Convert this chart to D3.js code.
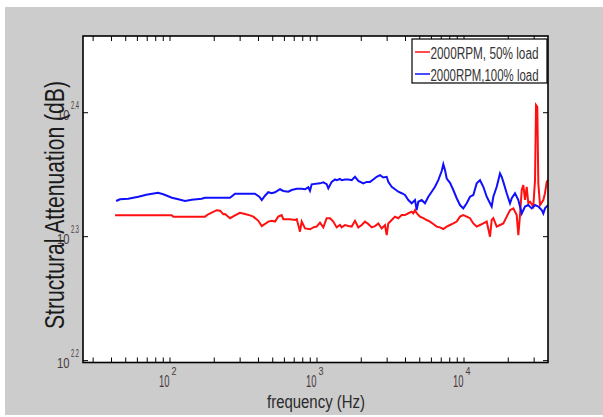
<!DOCTYPE html>
<html>
<head>
<meta charset="utf-8">
<script src="https://cdn.jsdelivr.net/npm/d3@7"></script>
<style>
  body { margin: 0; background: #fff; }
  svg { display: block; }
</style>
</head>
<body>
<svg id="chart" width="603" height="417"></svg>
<script>
const seriesNames = ["2000RPM, 50% load", "2000RPM,100% load"]
const seriesColors = ["#ff1010", "#1010ff"]
const xTickPowers = [2, 3, 4]
const yTickPowers = ["2.2", "2.3", "2.4"]

// [frequency Hz, attenuation]
const load50 = [
  [42.3,207.6],[102.7,207.6],[105.3,207.1],[173,207.1],[182,208.0],[208,209.6],[219,209.4],
  [230.5,208.0],[237,208.1],[256,206.5],[277,207.6],[299,208.6],[324,208.1],[350,207.6],
  [369,207.1],[399,205.5],[421,203.5],[443,204.3],[466,205.2],[492,205.5],[518,205.2],
  [545,207.1],[575,207.7],[590,206.1],[655,206.1],[709,205.8],[728,206.1],[746,203.9],
  [766,201.4],[787,205.2],[829,202.6],[896,202.3],[944,203.0],[995,203.3],[1048,204.8],
  [1104,203.0],[1164,206.5],[1226,206.5],[1291,205.2],[1361,203.0],[1434,203.9],[1472,203.0],
  [1550,203.9],[1633,203.5],[1722,203.3],[1814,205.5],[1910,203.0],[2015,203.9],[2121,205.2],
  [2234,204.3],[2356,203.0],[2481,203.5],[2612,204.5],[2755,202.6],[2901,203.9],[2980,200.1],
  [3055,204.5],[3222,205.8],[3393,207.1],[3573,206.5],[3769,207.7],[3968,207.7],[4180,208.4],
  [4408,209.0],[4520,208.4],[4642,209.6],[4767,208.4],[5020,207.1],[5286,206.5],[5576,205.8],
  [5871,205.2],[6183,204.3],[6521,203.3],[6866,203.0],[7232,202.4],[7626,203.3],[8033,203.9],
  [8458,204.5],[8919,205.2],[9393,207.1],[9890,207.7],[10430,207.1],[10985,206.5],[11570,204.5],
  [12200,203.3],[12850,203.9],[13530,204.5],[14270,205.2],[15030,199.5],[15430,205.8],
  [15830,206.5],[16690,203.3],[17580,203.9],[18510,204.5],[19520,207.1],[20560,209.6],
  [21660,210.3],[22830,207.7],[23420,200.1],[24040,207.7],[24700,217.6],[25320,219.6],
  [26000,213.6],[26700,218.9],[27380,212.3],[28120,212.9],[29600,211.0],[30410,221.6],
  [30900,254.8],[31520,254.0],[32030,220.3],[32890,211.6],[34640,213.6],[35560,216.3],
  [36530,220.9],[37270,221.6]
]

const load100 = [
  [43,213.2],[45.7,213.9],[52,214.1],[61,214.9],[69,215.7],[83,216.5],[90,215.9],[103,214.5],
  [114,213.9],[126.5,213.2],[140.5,213.7],[164,214.1],[173,214.5],[237,214.5],[256,214.5],
  [277,216.1],[378,216.1],[405,214.9],[421,213.6],[443,215.3],[466,216.7],[492,216.3],
  [518,216.7],[560,217.9],[590,217.2],[638,216.9],[673,217.6],[728,218.1],[787,218.1],
  [829,217.9],[873,218.7],[896,217.3],[920,219.9],[1048,220.3],[1104,220.7],[1164,220.0],
  [1194,218.3],[1259,220.9],[1326,221.9],[1361,221.6],[1434,222.1],[1472,221.6],[1550,221.9],
  [1633,221.9],[1722,221.6],[1814,223.0],[1910,221.3],[2065,220.3],[2178,220.9],[2294,220.9],
  [2415,221.9],[2547,223.0],[2683,223.7],[2825,222.7],[2980,223.0],[3055,220.9],[3222,218.9],
  [3393,217.9],[3573,216.9],[3769,216.3],[3968,215.6],[4180,213.6],[4408,212.3],[4642,213.6],
  [4767,209.6],[4888,212.9],[5155,213.6],[5428,212.3],[5717,214.9],[6030,216.9],[6348,218.9],
  [6687,221.6],[7052,225.4],[7232,228.3],[7425,225.8],[7626,222.3],[8033,220.5],[8458,217.6],
  [8919,214.3],[9393,211.6],[9890,210.3],[10430,212.3],[10985,214.9],[11570,215.6],
  [12200,220.3],[12850,221.6],[13530,218.9],[14270,214.9],[15030,212.3],[15430,211.0],
  [15830,214.9],[16690,218.9],[17580,224.4],[18050,223.0],[18510,220.9],[19520,216.3],
  [20560,212.3],[21120,214.3],[22240,216.3],[23420,213.6],[24700,208.3],[26000,211.0],
  [27380,211.6],[28880,210.3],[30410,211.6],[32030,211.0],[33780,209.6],[34640,208.3],
  [35560,210.3],[37270,211.6]
]

const svg = d3.select("#chart")
const font = "'Liberation Sans Narrow', 'Liberation Sans', Arial, sans-serif"
const textColor = "#4a3a3a"

const plotL = 83, plotR = 548, plotT = 36, plotB = 362.5

const x = d3.scaleLog().domain([25.6, 37270]).range([plotL, plotR])
const y = d3.scaleLog()
  .domain([Math.pow(10, 2.1985), Math.pow(10, 2.4619)])
  .range([plotB, plotT])

// backgrounds
svg.append("rect").attr("x", 5).attr("y", 7).attr("width", 598).attr("height", 408)
  .attr("fill", "#cccccc")
svg.append("rect").attr("x", plotL).attr("y", plotT)
  .attr("width", plotR - plotL).attr("height", plotB - plotT).attr("fill", "#fff")

// ticks
const [d0, d1] = x.domain()
const xTicks = x.ticks().filter(t => t >= d0 && t <= d1)
const yTicks = yTickPowers.map(p => Math.pow(10, +p))

const tickG = svg.append("g").attr("stroke", "#000").attr("stroke-width", 1)
tickG.selectAll("line.xb").data(xTicks).join("line")
  .attr("class", "xb")
  .attr("x1", d => x(d)).attr("x2", d => x(d))
  .attr("y1", plotB).attr("y2", plotB - 5)
tickG.selectAll("line.xt").data(xTicks).join("line")
  .attr("class", "xt")
  .attr("x1", d => x(d)).attr("x2", d => x(d))
  .attr("y1", plotT).attr("y2", plotT + 5)
tickG.selectAll("line.yl").data(yTicks).join("line")
  .attr("class", "yl")
  .attr("x1", plotL).attr("x2", plotL + 5)
  .attr("y1", d => y(d)).attr("y2", d => y(d))
tickG.selectAll("line.yr").data(yTicks).join("line")
  .attr("class", "yr")
  .attr("x1", plotR).attr("x2", plotR - 5)
  .attr("y1", d => y(d)).attr("y2", d => y(d))

// lines
const clip = svg.append("clipPath").attr("id", "plotclip")
clip.append("rect").attr("x", plotL).attr("y", plotT)
  .attr("width", plotR - plotL).attr("height", plotB - plotT)

const line = d3.line().x(d => x(d[0])).y(d => y(d[1]))
const plot = svg.append("g").attr("clip-path", "url(#plotclip)")
;[load50, load100].forEach((s, i) => {
  plot.append("path").datum(s)
    .attr("d", line)
    .attr("fill", "none")
    .attr("stroke", seriesColors[i])
    .attr("stroke-width", 2)
})

// frame
svg.append("rect").attr("x", plotL).attr("y", plotT)
  .attr("width", plotR - plotL).attr("height", plotB - plotT)
  .attr("fill", "none").attr("stroke", "#000").attr("stroke-width", 1.6)

// squeezed text: scaled horizontally so it fills the wanted width
function squeezed(tx, ty, size, width, str) {
  const t = svg.append("text").attr("font-family", font).attr("font-size", size)
    .attr("fill", textColor).text(str)
  const natural = t.node().getComputedTextLength()
  t.attr("transform", `translate(${tx},${ty}) scale(${width / natural},1)`)
  return t
}

xTickPowers.forEach(p => {
  const px = x(Math.pow(10, p))
  squeezed(px - 11, 387, 16, 10.5, "10")
  squeezed(px + 1.5, 375, 11, 5, p)
})

yTickPowers.forEach(p => {
  const py = y(Math.pow(10, +p))
  squeezed(57, py + 7, 15, 12.5, "10")
  squeezed(71, py - 4, 10, 8, p)
})

// axis titles
svg.append("text").attr("x", 267).attr("y", 408)
  .attr("font-family", font).attr("font-size", 18).attr("fill", "#2a2a2a")
  .attr("textLength", 98).attr("lengthAdjust", "spacingAndGlyphs")
  .text("frequency (Hz)")

svg.append("text")
  .attr("transform", "translate(64,329) rotate(-90)")
  .attr("font-family", font).attr("font-size", 28).attr("fill", "#1a1a1a")
  .attr("textLength", 248).attr("lengthAdjust", "spacingAndGlyphs")
  .text("Structural Attenuation (dB)")

// legend
const lg = svg.append("g")
lg.append("rect").attr("x", 412).attr("y", 39).attr("width", 135).attr("height", 44)
  .attr("fill", "#fff").attr("stroke", "#000").attr("stroke-width", 1.2)
seriesNames.forEach((name, i) => {
  const ly = i === 0 ? 52 : 74
  lg.append("line").attr("x1", 415).attr("x2", 430).attr("y1", ly).attr("y2", ly)
    .attr("stroke", seriesColors[i]).attr("stroke-width", 1.5)
  lg.append("text").attr("x", 430.5).attr("y", ly + 7)
    .attr("font-family", font).attr("font-size", 16).attr("fill", "#333")
    .attr("textLength", 108).attr("lengthAdjust", "spacingAndGlyphs")
    .text(name)
})
</script>
</body>
</html>
